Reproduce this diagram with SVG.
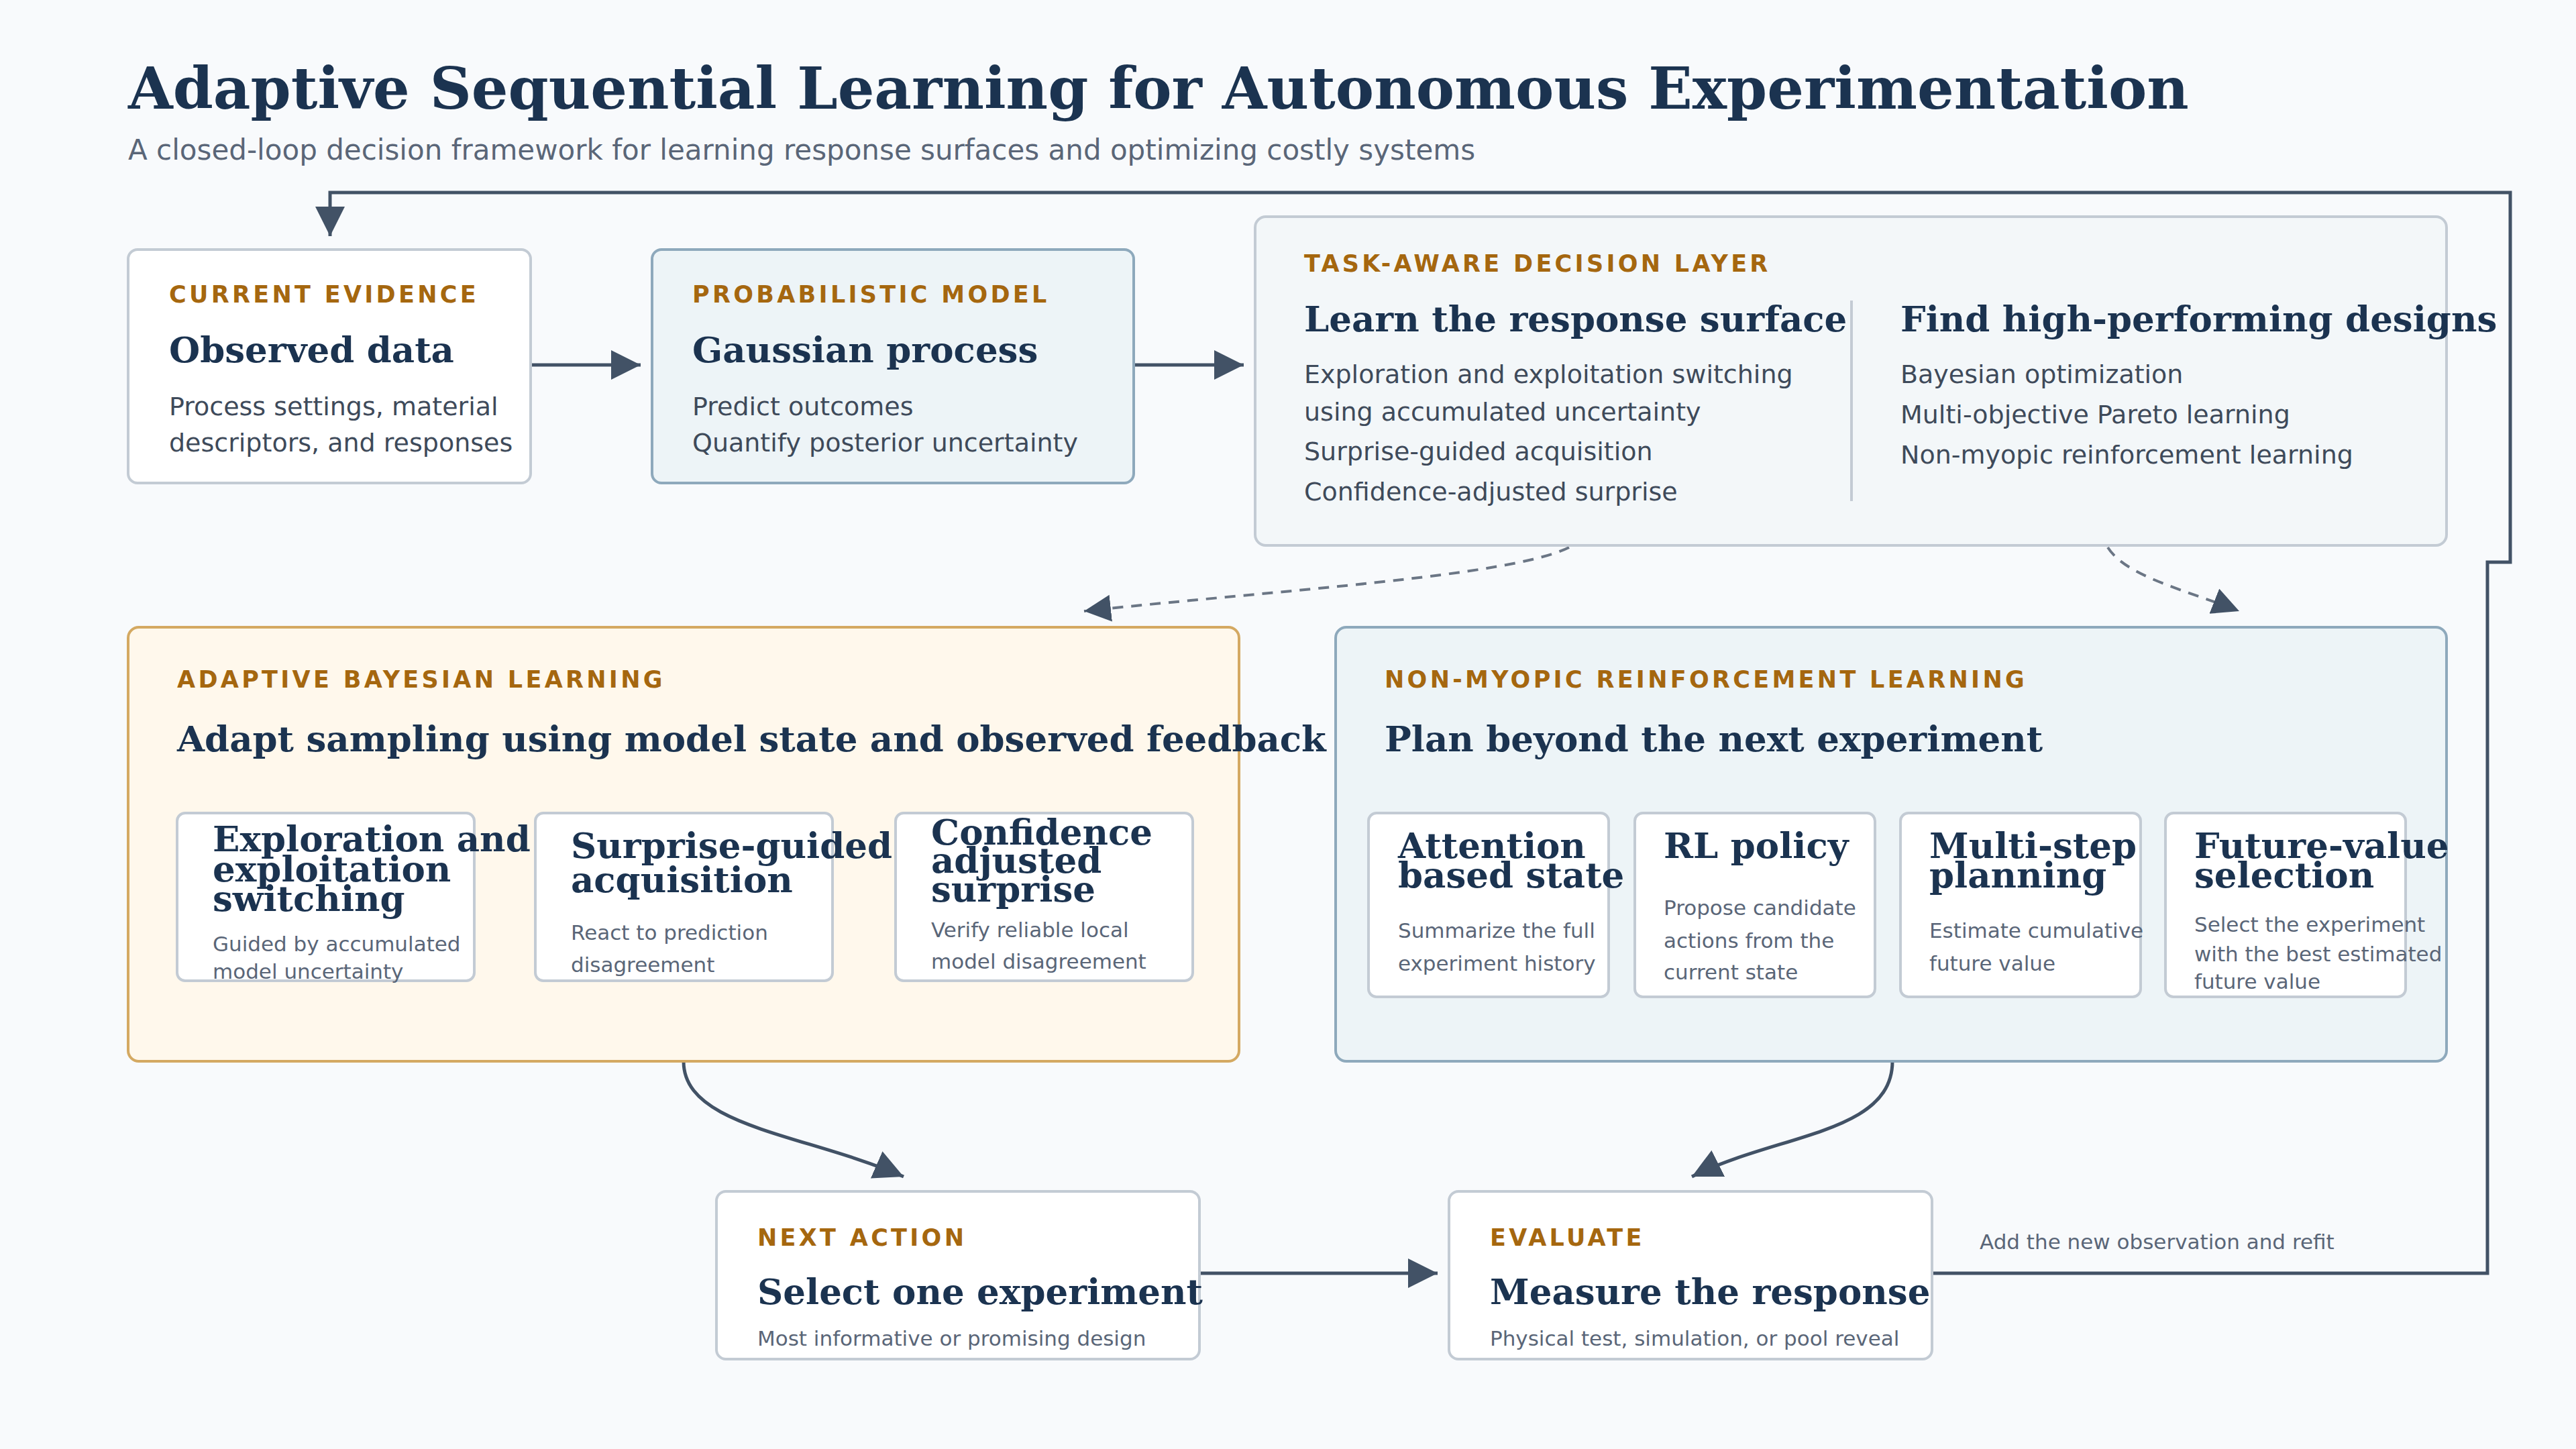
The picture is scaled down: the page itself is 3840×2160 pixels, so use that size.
<svg xmlns="http://www.w3.org/2000/svg" width="3840" height="2160" viewBox="0 0 3840 2160">
<style>
.bg{fill:#f8fafc}
.card{fill:#ffffff;stroke:#c3cbd4;stroke-width:4}
.blue{fill:#edf4f7;stroke:#8ea9bc;stroke-width:4}
.warm{fill:#fff8ec;stroke:#d4a962;stroke-width:4}
.pale{fill:#f3f7f9;stroke:#c3cbd4;stroke-width:4}
.lbl{font-family:"DejaVu Sans",sans-serif;font-weight:bold;font-size:35px;letter-spacing:4.3px;fill:#a5670f}
.h{font-family:"DejaVu Serif",serif;font-weight:bold;fill:#1b3350}
.b{font-family:"DejaVu Sans",sans-serif;font-size:38px;fill:#3e4a5a}
.s{font-family:"DejaVu Sans",sans-serif;font-size:31px;fill:#5a6678}
.c{fill:none;stroke:#425266;stroke-width:5}
.d{fill:none;stroke:#6b7685;stroke-width:4;stroke-dasharray:16 12}
</style>
<defs>
<marker id="a" markerUnits="userSpaceOnUse" markerWidth="50" markerHeight="50" refX="44" refY="22" orient="auto"><path d="M0,0 L44,22 L0,44 Z" fill="#425266"/></marker>
<marker id="ad" markerUnits="userSpaceOnUse" markerWidth="50" markerHeight="50" refX="40" refY="20" orient="auto"><path d="M0,0 L40,20 L0,40 Z" fill="#425266"/></marker>
</defs>
<rect class="bg" width="3840" height="2160"/>
<text x="191" y="162" class="h" font-size="86">Adaptive Sequential Learning for Autonomous Experimentation</text>
<text x="191" y="238" font-family="DejaVu Sans, sans-serif" font-size="42" fill="#5a6678">A closed-loop decision framework for learning response surfaces and optimizing costly systems</text>

<g id="connectors">
<path class="c" d="M791,544 L955,544" marker-end="url(#a)"/>
<path class="c" d="M1690,544 L1854,544" marker-end="url(#a)"/>
<path class="d" d="M2339,816 C2250,860 1900,880 1616,911" marker-end="url(#ad)"/>
<path class="d" d="M3142,816 C3170,860 3260,880 3338,911" marker-end="url(#ad)"/>
<path class="c" d="M1019,1582 C1019,1680 1200,1690 1347,1754" marker-end="url(#a)"/>
<path class="c" d="M2821,1582 C2821,1690 2650,1690 2522,1754" marker-end="url(#a)"/>
<path class="c" d="M1788,1898 L2143,1898" marker-end="url(#a)"/>
<path class="c" d="M2880,1898 L3708,1898 L3708,838 L3742,838 L3742,287 L492,287 L492,352" marker-end="url(#a)"/>
<path class="c" d="M2390,1347 L2419,1347" marker-end="url(#a)"/>
<path class="c" d="M2787,1347 L2815,1347" marker-end="url(#a)"/>
<path class="c" d="M3183,1347 L3211,1347" marker-end="url(#a)"/>
<text x="2951" y="1862" class="s">Add the new observation and refit</text>
</g>

<g id="evidence">
<rect class="card" x="191" y="372" width="600" height="348" rx="14"/>
<text x="252" y="451" class="lbl">CURRENT EVIDENCE</text>
<text x="252" y="540" class="h" font-size="53">Observed data</text>
<text x="252" y="619" class="b">Process settings, material</text>
<text x="252" y="673" class="b">descriptors, and responses</text>
</g>
<g id="model">
<rect class="blue" x="972" y="372" width="718" height="348" rx="14"/>
<text x="1032" y="451" class="lbl">PROBABILISTIC MODEL</text>
<text x="1032" y="540" class="h" font-size="53">Gaussian process</text>
<text x="1032" y="619" class="b">Predict outcomes</text>
<text x="1032" y="673" class="b">Quantify posterior uncertainty</text>
</g>
<g id="decision">
<rect class="pale" x="1871" y="323" width="1776" height="490" rx="16"/>
<text x="1944" y="405" class="lbl">TASK-AWARE DECISION LAYER</text>
<text x="1944" y="494" class="h" font-size="53">Learn the response surface</text>
<text x="1944" y="571" class="b">Exploration and exploitation switching</text>
<text x="1944" y="627" class="b">using accumulated uncertainty</text>
<text x="1944" y="686" class="b">Surprise-guided acquisition</text>
<text x="1944" y="746" class="b">Confidence-adjusted surprise</text>
<line x1="2760" y1="448" x2="2760" y2="747" stroke="#c3cbd4" stroke-width="4"/>
<text x="2833" y="494" class="h" font-size="53">Find high-performing designs</text>
<text x="2833" y="571" class="b">Bayesian optimization</text>
<text x="2833" y="631" class="b">Multi-objective Pareto learning</text>
<text x="2833" y="691" class="b">Non-myopic reinforcement learning</text>
</g>

<g id="abl">
<rect class="warm" x="191" y="935" width="1656" height="647" rx="16"/>
<text x="264" y="1025" class="lbl">ADAPTIVE BAYESIAN LEARNING</text>
<text x="264" y="1120" class="h" font-size="53">Adapt sampling using model state and observed feedback</text>
</g>
<g id="abl-explore">
<rect class="card" x="264" y="1212" width="443" height="250" rx="12"/>
<text x="317" y="1269" class="h" font-size="53">Exploration and</text>
<text x="317" y="1314" class="h" font-size="53">exploitation</text>
<text x="317" y="1358" class="h" font-size="53">switching</text>
<text x="317" y="1418" class="s">Guided by accumulated</text>
<text x="317" y="1459" class="s">model uncertainty</text>
</g>
<g id="abl-surprise">
<rect class="card" x="798" y="1212" width="443" height="250" rx="12"/>
<text x="851" y="1279" class="h" font-size="53">Surprise-guided</text>
<text x="851" y="1330" class="h" font-size="53">acquisition</text>
<text x="851" y="1401" class="s">React to prediction</text>
<text x="851" y="1449" class="s">disagreement</text>
</g>
<g id="abl-confidence">
<rect class="card" x="1335" y="1212" width="443" height="250" rx="12"/>
<text x="1388" y="1259" class="h" font-size="53">Confidence</text>
<text x="1388" y="1301" class="h" font-size="53">adjusted</text>
<text x="1388" y="1344" class="h" font-size="53">surprise</text>
<text x="1388" y="1397" class="s">Verify reliable local</text>
<text x="1388" y="1444" class="s">model disagreement</text>
</g>

<g id="nmrl">
<rect class="blue" x="1991" y="935" width="1656" height="647" rx="16"/>
<text x="2064" y="1025" class="lbl">NON-MYOPIC REINFORCEMENT LEARNING</text>
<text x="2064" y="1120" class="h" font-size="53">Plan beyond the next experiment</text>
</g>
<g id="nmrl-attention">
<rect class="card" x="2040" y="1212" width="358" height="274" rx="12"/>
<text x="2084" y="1279" class="h" font-size="53">Attention</text>
<text x="2084" y="1323" class="h" font-size="53">based state</text>
<text x="2084" y="1398" class="s">Summarize the full</text>
<text x="2084" y="1447" class="s">experiment history</text>
</g>
<g id="nmrl-policy">
<rect class="card" x="2437" y="1212" width="358" height="274" rx="12"/>
<text x="2480" y="1279" class="h" font-size="53">RL policy</text>
<text x="2480" y="1364" class="s">Propose candidate</text>
<text x="2480" y="1413" class="s">actions from the</text>
<text x="2480" y="1460" class="s">current state</text>
</g>
<g id="nmrl-planning">
<rect class="card" x="2833" y="1212" width="358" height="274" rx="12"/>
<text x="2876" y="1279" class="h" font-size="53">Multi-step</text>
<text x="2876" y="1323" class="h" font-size="53">planning</text>
<text x="2876" y="1398" class="s">Estimate cumulative</text>
<text x="2876" y="1447" class="s">future value</text>
</g>
<g id="nmrl-select">
<rect class="card" x="3228" y="1212" width="358" height="274" rx="12"/>
<text x="3271" y="1279" class="h" font-size="53">Future-value</text>
<text x="3271" y="1323" class="h" font-size="53">selection</text>
<text x="3271" y="1389" class="s">Select the experiment</text>
<text x="3271" y="1433" class="s">with the best estimated</text>
<text x="3271" y="1474" class="s">future value</text>
</g>

<g id="next">
<rect class="card" x="1068" y="1776" width="720" height="250" rx="14"/>
<text x="1129" y="1857" class="lbl">NEXT ACTION</text>
<text x="1129" y="1944" class="h" font-size="53">Select one experiment</text>
<text x="1129" y="2006" class="s">Most informative or promising design</text>
</g>
<g id="evaluate">
<rect class="card" x="2160" y="1776" width="720" height="250" rx="14"/>
<text x="2221" y="1857" class="lbl">EVALUATE</text>
<text x="2221" y="1944" class="h" font-size="53">Measure the response</text>
<text x="2221" y="2006" class="s">Physical test, simulation, or pool reveal</text>
</g>
</svg>
